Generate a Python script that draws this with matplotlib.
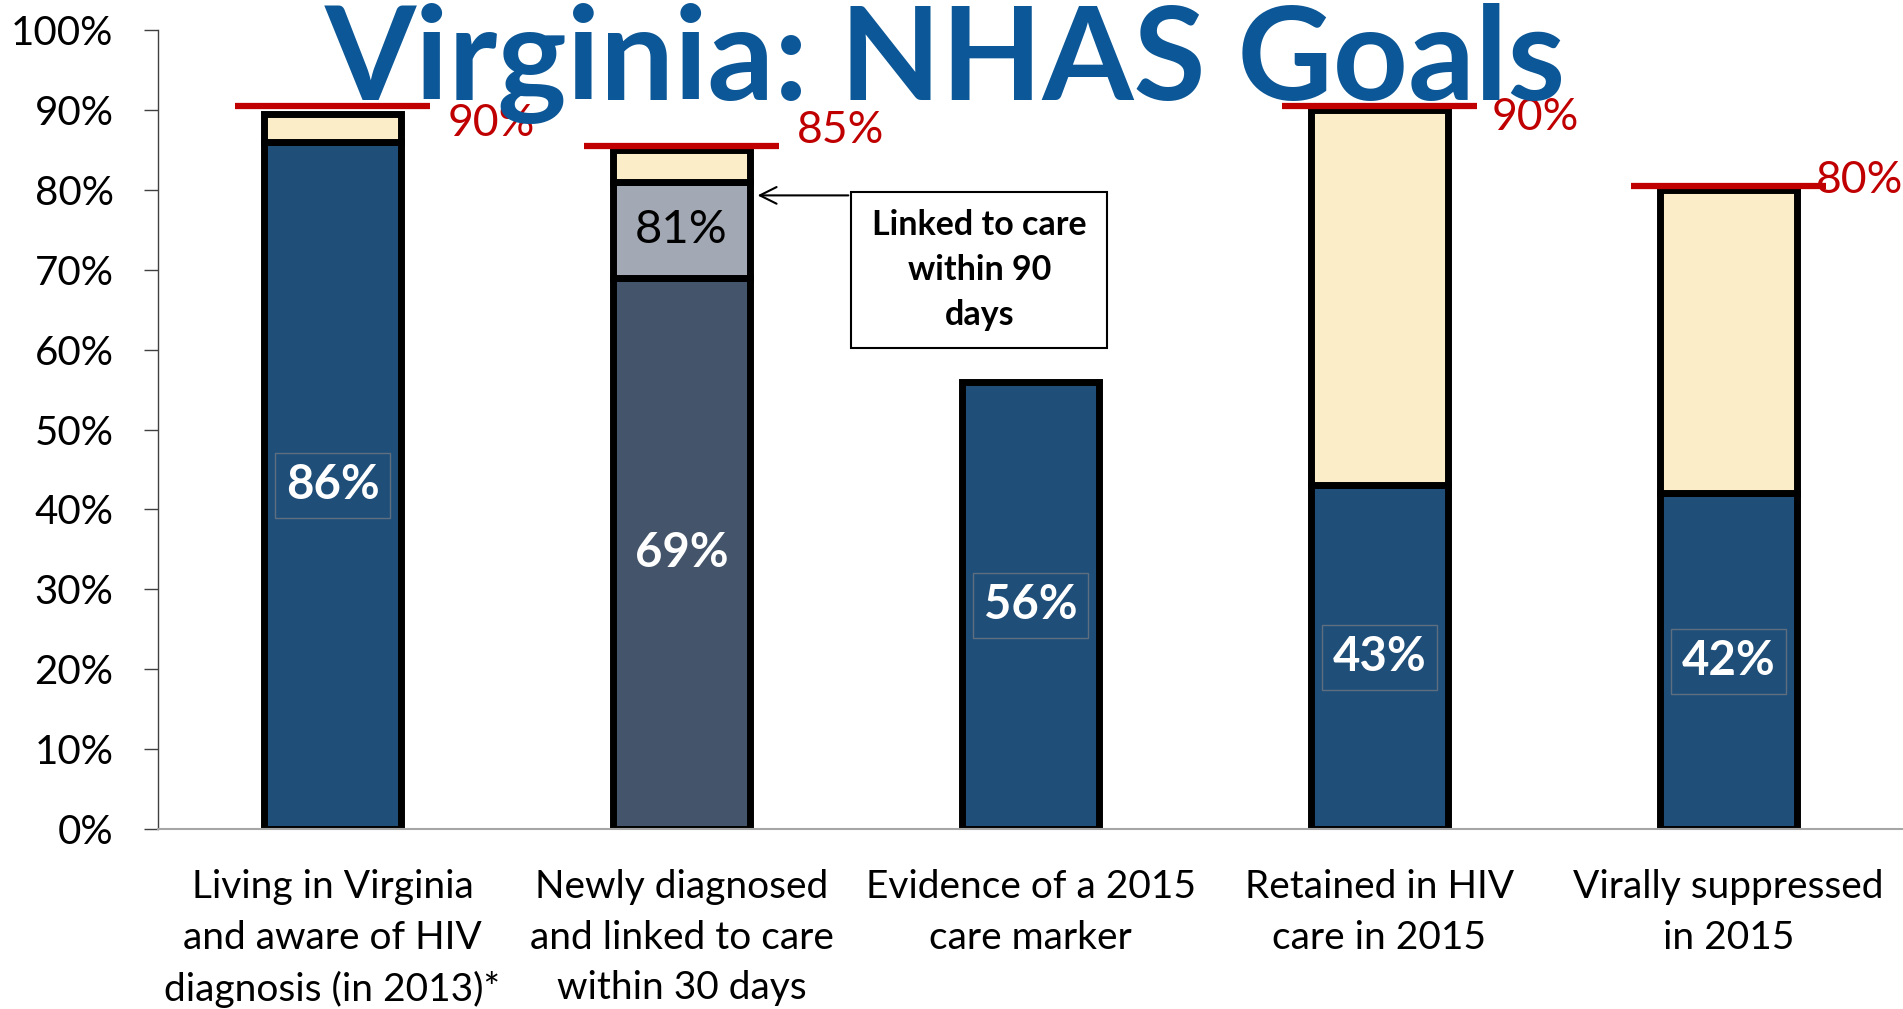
import matplotlib.pyplot as plt
from matplotlib.patches import Rectangle

plt.rcParams['font.family'] = ['Lato', 'DejaVu Sans']

categories = ['Living in Virginia\nand aware of HIV\ndiagnosis (in 2013)*',
              'Newly diagnosed\nand linked to care\nwithin 30 days',
              'Evidence of a 2015\ncare marker',
              'Retained in HIV\ncare in 2015',
              'Virally suppressed\nin 2015']
achieved = [86, 69, 56, 43, 42]
linked_90 = [None, 81, None, None, None]
bar_top = [89.5, 85, None, 90, 80]
targets = [90, 85, None, 90, 80]

blue = '#1F4E79'
slate = '#44546A'
grey = '#A2A9B4'
beige = '#FBEDC8'
red = '#C00000'

fig = plt.figure(figsize=(19.03, 10.09), dpi=100)
ax = fig.add_axes([158 / 1903, 1 - 829 / 1009, 1 - 158 / 1903, (829 - 30) / 1009])

x = list(range(len(categories)))
w = 0.39
lw = 5

for i in x:
    base_col = slate if linked_90[i] is not None else blue
    ax.bar(i, achieved[i], w, color=base_col, edgecolor='black', linewidth=lw, zorder=2)
    low = achieved[i]
    if linked_90[i] is not None:
        ax.bar(i, linked_90[i] - low, w, bottom=low, color=grey, edgecolor='black',
               linewidth=lw, zorder=2)
        low = linked_90[i]
    if bar_top[i] is not None:
        ax.bar(i, bar_top[i] - low, w, bottom=low, color=beige, edgecolor='black',
               linewidth=lw, zorder=2)

# value labels in the bars
for i in x:
    if linked_90[i] is not None:
        ax.text(i, achieved[i] / 2, f'{achieved[i]}%', ha='center', va='center',
                fontsize=34, fontweight='bold', color='white', zorder=4)
        ax.text(i, (achieved[i] + linked_90[i]) / 2, f'{linked_90[i]}%', ha='center',
                va='center', fontsize=34, color='black', zorder=4)
    else:
        ax.text(i, achieved[i] / 2, f'{achieved[i]}%', ha='center', va='center',
                fontsize=34, fontweight='bold', color='white', zorder=4,
                bbox=dict(boxstyle='square,pad=0.22', fc='none', ec='#5F6F80', lw=1))

# target lines
lab_dx = [0.33, 0.33, 0, 0.32, 0.25]
lab_dy = [-1.7, 2.4, 0, -0.9, 1.2]
for i in x:
    if targets[i] is None:
        continue
    ax.hlines(targets[i] + 0.5, i - 0.28, i + 0.28, color=red, linewidth=4.5, zorder=3)
    ax.text(i + lab_dx[i], targets[i] + lab_dy[i], f'{targets[i]}%', color=red,
            fontsize=32, ha='left', va='center', zorder=5)

# callout
ax.add_patch(Rectangle((1.486, 60.2), 0.734, 19.5, fc='white', ec='black', lw=1.5,
                       zorder=3))
ax.text(1.853, 70, 'Linked to care\nwithin 90\ndays', ha='center', va='center',
        fontsize=24.5, fontweight='bold', linespacing=1.5, zorder=4)
ax.annotate('', xy=(1.21, 79.3), xytext=(1.486, 79.3),
            arrowprops=dict(arrowstyle='->', color='black', lw=1.5, mutation_scale=30),
            zorder=4)

ax.set_xlim(-0.5, 4.5)
ax.set_ylim(0, 100)
ax.set_yticks(range(0, 101, 10))
ax.set_yticklabels([f'{v}%' for v in range(0, 101, 10)])
ax.set_xticks(x)
ax.set_xticklabels(categories, linespacing=1.5)
ax.tick_params(axis='y', labelsize=29, length=10, width=1, color='#404040', pad=22)
ax.tick_params(axis='x', labelsize=28, length=0, pad=29)
for s in ['top', 'right']:
    ax.spines[s].set_visible(False)
ax.spines['left'].set_color('#404040')
ax.spines['left'].set_linewidth(1)
ax.spines['bottom'].set_color('#A6A6A6')
ax.spines['bottom'].set_linewidth(1.5)

fig.text(0.5 * (328 + 1562) / 1903, 1 - 100 / 1009, 'Virginia: NHAS Goals', ha='center',
         va='baseline', fontsize=94.5, fontweight='bold', color='#0B5797')

fig.savefig('out.png', dpi=100)
